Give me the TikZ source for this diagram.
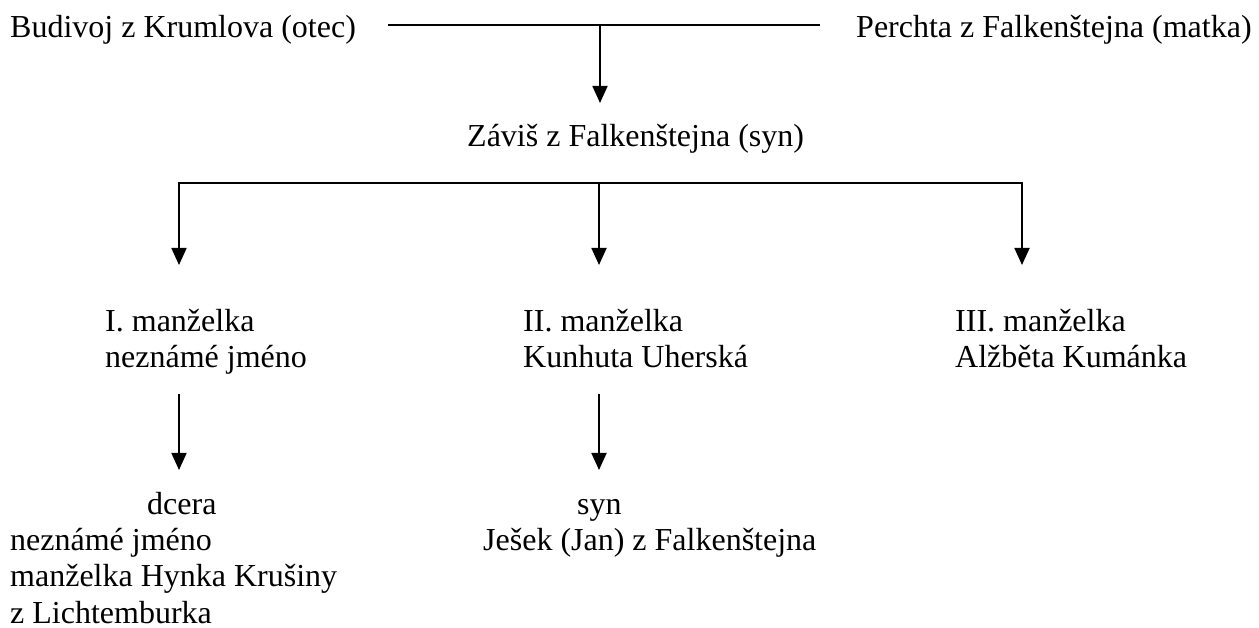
\documentclass[tikz,border=0pt]{standalone}
\usepackage{fontspec}
\setmainfont{Liberation Serif}
\usetikzlibrary{arrows.meta}
\tikzset{
  person/.style={anchor=base west,inner sep=0pt,font=\fontsize{32bp}{36bp}\selectfont},
  link/.style={line width=1.8bp,>={Triangle[width=15bp,length=17bp]}},
  descent/.style={link,->},
}
\begin{document}
\begin{tikzpicture}
		%%
  \useasboundingbox (0bp,0bp) rectangle (1259bp,628bp);
  \node (Otec) at (10bp,590bp) [person] {Budivoj z Krumlova (otec)};
  \node (Matka) at (856bp,590bp) [person] {Perchta z Falkenštejna (matka)};
  \node (Zavis) at (467bp,481bp) [person] {Záviš z Falkenštejna (syn)};
  \node (Manz1) at (105bp,296bp) [person] {I. manželka};
  \node (Manz1n) at (105bp,260bp) [person] {neznámé jméno};
  \node (Manz2) at (523bp,296bp) [person] {II. manželka};
  \node (Manz2n) at (523bp,260bp) [person] {Kunhuta Uherská};
  \node (Manz3) at (955bp,296bp) [person] {III. manželka};
  \node (Manz3n) at (955bp,260bp) [person] {Alžběta Kumánka};
  \node (Dcera) at (147bp,113bp) [person] {dcera};
  \node (Dceran) at (10bp,77bp) [person] {neznámé jméno};
  \node (Dcerab) at (10bp,41bp) [person] {manželka Hynka Krušiny};
  \node (Dcerac) at (10bp,5bp) [person] {z Lichtemburka};
  \node (Syn) at (577bp,113bp) [person] {syn};
  \node (Synn) at (483bp,77bp) [person] {Ješek (Jan) z Falkenštejna};
  \coordinate (Svazek0) at (388bp,603bp);
  \coordinate (Svazek1) at (820bp,603bp);
  \coordinate (Svazek) at (600bp,603bp);
  \coordinate (ZavisIn) at (600bp,525bp);
  \coordinate (Vetev1) at (179bp,445bp);
  \coordinate (Vetev2) at (599bp,445bp);
  \coordinate (Vetev3) at (1022bp,445bp);
  \coordinate (Manz1In) at (179bp,363bp);
  \coordinate (Manz2In) at (599bp,363bp);
  \coordinate (Manz3In) at (1022bp,363bp);
  \coordinate (Manz1Out) at (179bp,234bp);
  \coordinate (Manz2Out) at (599bp,234bp);
  \coordinate (DceraIn) at (179bp,158bp);
  \coordinate (SynIn) at (599bp,158bp);
  \draw [link] (Svazek0) -- (Svazek1);
  \draw [descent] (Svazek) -- (ZavisIn);
  \draw [link,<->] (Manz1In) -- (Vetev1) -- (Vetev3) -- (Manz3In);
  \draw [descent] (Vetev2) -- (Manz2In);
  \draw [descent] (Manz1Out) -- (DceraIn);
  \draw [descent] (Manz2Out) -- (SynIn);
		%
	\end{tikzpicture}
\end{document}
